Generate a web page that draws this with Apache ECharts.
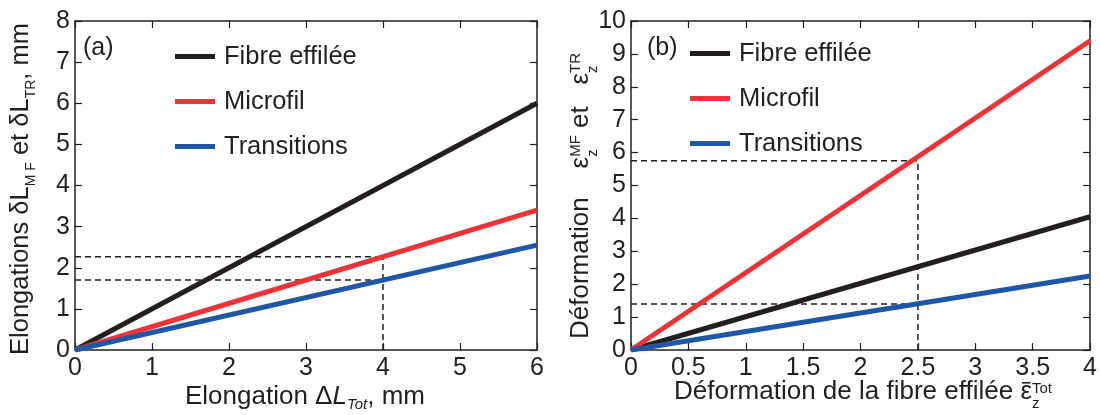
<!DOCTYPE html>
<html><head><meta charset="utf-8">
<script src="https://cdn.jsdelivr.net/npm/echarts@6/dist/echarts.min.js"></script>
<style>html,body{margin:0;padding:0;background:#fff}#c{width:1100px;height:415px}</style>
</head><body><div id="c"></div>
<script>
// ---- data ----
const seriesNames = ['Fibre effilée', 'Microfil', 'Transitions'];
// panel (a): elongation, mm
const xA = [0, 6];
const fibreA = [0, 6];
const microA = [0, 3.4];
const transA = [0, 2.55];
const guideA = { x: 4, micro: 2.27, trans: 1.7 };
// panel (b): deformation
const xB = [0, 4];
const fibreB = [0, 4.05];
const microB = [0, 9.4];
const transB = [0, 2.25];
const guideB = { x: 2.5, micro: 5.75, trans: 1.4 };
const axisA = { xmin: 0, xmax: 6, xstep: 1, ymin: 0, ymax: 8, ystep: 1 };
const axisB = { xmin: 0, xmax: 4, xstep: 0.5, ymin: 0, ymax: 10, ystep: 1 };

const INK = '#231f20';
const COLORS = ['#231f20', '#ee3338', '#1f56a5'];
const FONT = 'Liberation Sans';

const pairs = (xs, ys) => xs.map((x, i) => [x, ys[i]]);

function xAxes(grid, ax) {
  const base = {
    gridIndex: grid, type: 'value', min: ax.xmin, max: ax.xmax, interval: ax.xstep,
    axisLine: { show: true, onZero: false, lineStyle: { color: INK, width: 1.5 } },
    axisTick: { show: true, inside: true, length: 7, lineStyle: { color: INK, width: 1.2 } },
    splitLine: { show: false }
  };
  return [
    Object.assign({}, base, { position: 'bottom', axisLabel: { fontSize: 25, color: INK, fontFamily: FONT, margin: 6 } }),
    Object.assign({}, base, { position: 'top', axisLabel: { show: false } })
  ];
}
function yAxes(grid, ax) {
  const base = {
    gridIndex: grid, type: 'value', min: ax.ymin, max: ax.ymax, interval: ax.ystep,
    axisLine: { show: true, onZero: false, lineStyle: { color: INK, width: 1.5 } },
    axisTick: { show: true, inside: true, length: 7, lineStyle: { color: INK, width: 1.2 } },
    splitLine: { show: false }
  };
  return [
    Object.assign({}, base, { position: 'left', axisLabel: { fontSize: 25, color: INK, fontFamily: FONT, margin: 5 } }),
    Object.assign({}, base, { position: 'right', axisLabel: { show: false } })
  ];
}

function panelSeries(xi, yi, xs, ys3, g) {
  const out = ys3.map((ys, i) => ({
    name: seriesNames[i], type: 'line', xAxisIndex: xi, yAxisIndex: yi,
    data: pairs(xs, ys), symbol: 'none', z: 3 + i,
    lineStyle: { color: COLORS[i], width: 5 }, itemStyle: { color: COLORS[i] }
  }));
  const dash = { color: INK, width: 1.5, type: [6, 4] };
  const guides = [
    [[0, g.micro], [g.x, g.micro]],
    [[0, g.trans], [g.x, g.trans]],
    [[g.x, 0], [g.x, g.micro]]
  ];
  guides.forEach(d => out.push({
    type: 'line', xAxisIndex: xi, yAxisIndex: yi, data: d, symbol: 'none', z: 2,
    lineStyle: dash, silent: true
  }));
  return out;
}

// ---- rich label builder (sub/superscripts) ----
const ctx = document.createElement('canvas').getContext('2d');
function measure(t, fs, it) { ctx.font = (it ? 'italic ' : '') + fs + 'px "' + FONT + '"'; return ctx.measureText(t).width; }
function label(pieces, x, y, rot, baseFs) {
  let cur = 0, stackStart = null, stackW = 0;
  const kids = [];
  pieces.forEach(p => {
    const fs = p.fs || baseFs || 26;
    const w = measure(p.t, fs, p.it);
    let px = stackStart !== null ? stackStart : cur;
    kids.push({ type: 'text', x: px, y: p.dy || 0, style: {
      text: p.t, fontSize: fs, fontStyle: p.it ? 'italic' : 'normal', fontFamily: FONT,
      fill: INK, align: 'left', verticalAlign: 'middle' } });
    if (p.bar) kids.push({ type: 'rect', shape: { x: px + 1.5, y: -10, width: w - 3, height: 1.6 }, style: { fill: INK } });
    if (p.stack) { stackStart = cur; stackW = w; }
    else if (stackStart !== null) { cur = stackStart + Math.max(stackW, w); stackStart = null; }
    else cur += w;
  });
  kids.forEach(k => { if (k.type === 'text') k.x -= cur / 2; else k.shape.x -= cur / 2; });
  return { type: 'group', x: x, y: y, rotation: rot || 0, children: kids };
}

const graphics = [
  label([{ t: 'Elongation Δ' }, { t: 'L', it: true }, { t: 'Tot', fs: 15, it: true, dy: 8 }, { t: ', mm' }], 305, 397, 0, 26),
  label([{ t: 'Déformation de la fibre effilée ' }, { t: 'ε', bar: true }, { t: 'z', fs: 15, dy: 12, stack: true }, { t: 'Tot', fs: 15, dy: -3 }], 863, 392, 0, 26),
  label([{ t: 'Elongations δL' }, { t: 'M F', fs: 14, dy: 10 }, { t: ' et δL' }, { t: 'TR', fs: 14, dy: 10 }, { t: ', mm' }], 21, 189, Math.PI / 2, 25.5),
  label([{ t: 'Déformation    ε' }, { t: 'z', fs: 15, dy: 12, stack: true }, { t: 'MF', fs: 15, dy: -5 }, { t: ' et   ε' }, { t: 'z', fs: 15, dy: 12, stack: true }, { t: 'TR', fs: 15, dy: -5 }], 581, 196, Math.PI / 2, 26),
  { type: 'text', x: 83, y: 48, style: { text: '(a)', fontSize: 25, fontFamily: FONT, fill: INK, verticalAlign: 'middle' } },
  { type: 'text', x: 647, y: 48, style: { text: '(b)', fontSize: 25, fontFamily: FONT, fill: INK, verticalAlign: 'middle' } }
];

const legendBase = {
  orient: 'vertical', icon: 'rect', itemWidth: 40, itemHeight: 5, itemGap: 18, padding: 0,
  textStyle: { fontSize: 25.5, color: INK, fontFamily: FONT, lineHeight: 27, padding: [0, 0, 0, 4] },
  data: seriesNames, selectedMode: false
};

const option = {
  animation: false,
  backgroundColor: '#fff',
  grid: [
    { left: 75, right: 563, top: 21, bottom: 65 },
    { left: 631, right: 9, top: 21, bottom: 65 }
  ],
  xAxis: xAxes(0, axisA).concat(xAxes(1, axisB)),
  yAxis: yAxes(0, axisA).concat(yAxes(1, axisB)),
  legend: [
    Object.assign({}, legendBase, { left: 175, top: 43 }),
    Object.assign({}, legendBase, { left: 690, top: 40 })
  ],
  series: panelSeries(0, 0, xA, [fibreA, microA, transA], guideA)
    .concat(panelSeries(2, 2, xB, [fibreB, microB, transB], guideB)),
  graphic: graphics
};
echarts.init(document.getElementById('c')).setOption(option);
</script></body></html>
